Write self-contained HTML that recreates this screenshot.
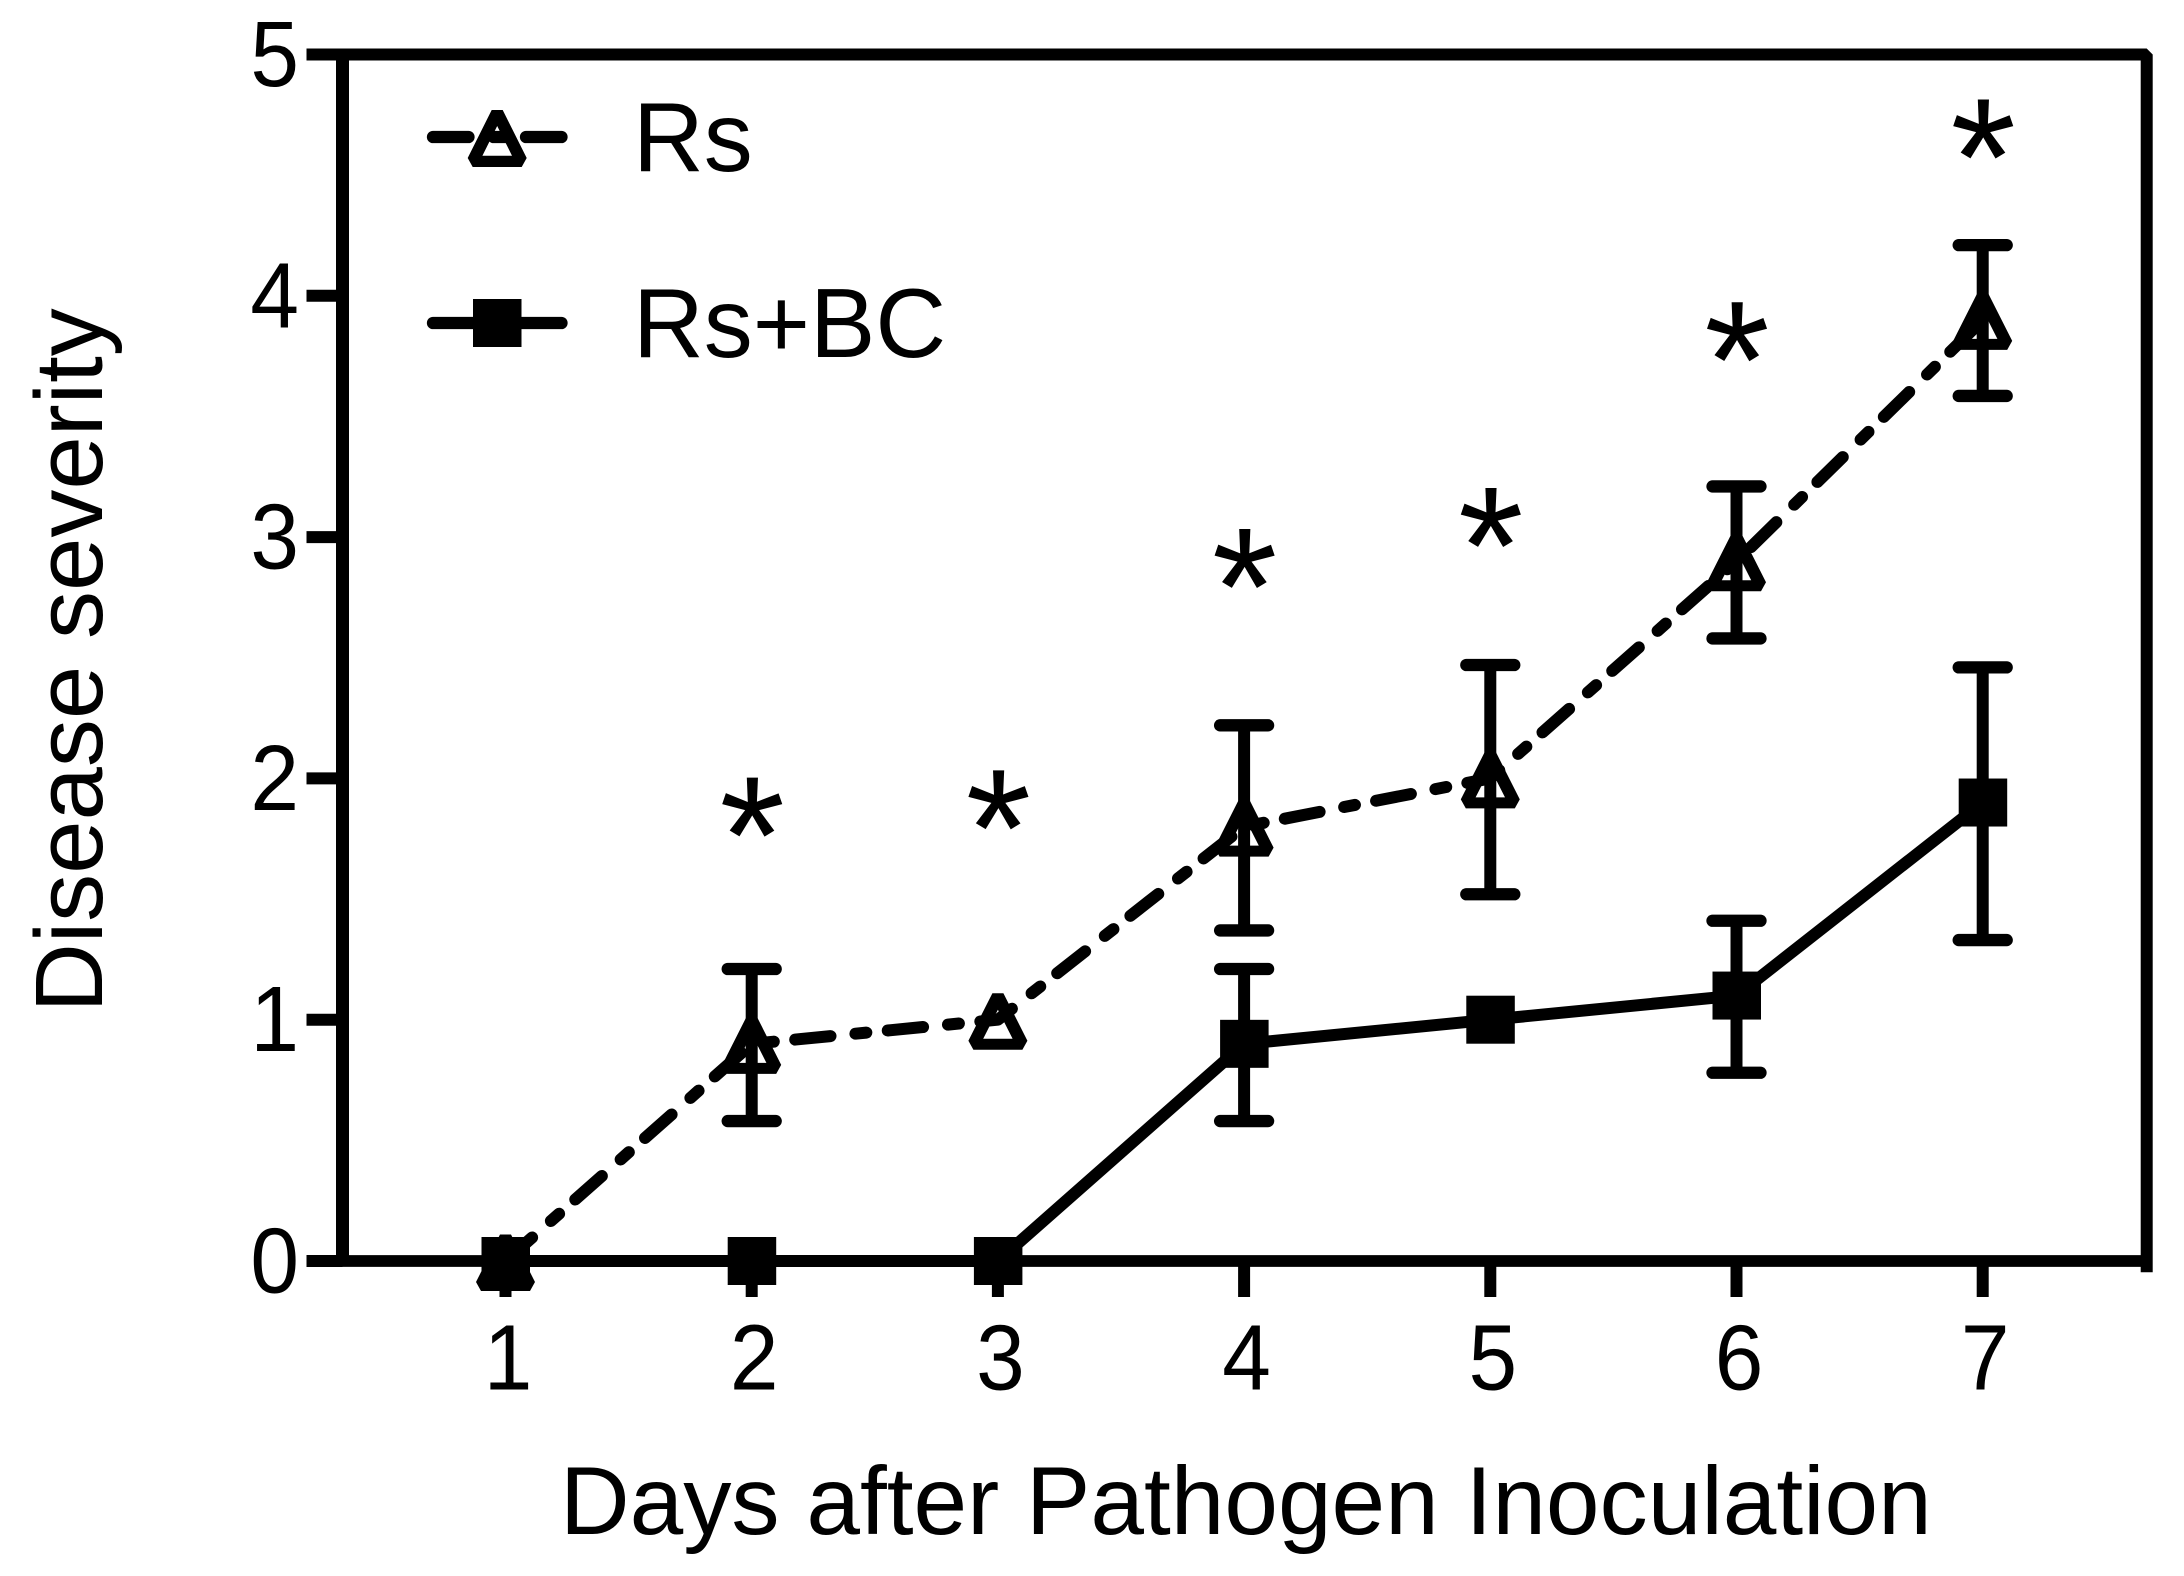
<!DOCTYPE html>
<html>
<head>
<meta charset="utf-8">
<title>Disease severity chart</title>
<style>
  html, body { margin: 0; padding: 0; background: #fff; }
  svg { display: block; }
  text { font-family: "Liberation Sans", Arial, sans-serif; fill: #000; }
</style>
</head>
<body>
<svg id="chart" xmlns="http://www.w3.org/2000/svg" width="2184" height="1576" viewBox="0 0 2184 1576">
  <rect x="0" y="0" width="2184" height="1576" fill="#fff"/>
  <g id="frame"></g>
  <g id="yTicks"></g>
  <g id="xTicks"></g>
  <g id="series"></g>
  <g id="stars"></g>
  <text transform="translate(102,1012.5) rotate(-90)" font-size="96">Disease severity</text>
  <text x="560" y="1534" font-size="96.4">Days after Pathogen Inoculation</text>
  <g>
    <g>
      <line x1="433" y1="137" x2="561.5" y2="137" stroke="#000" stroke-width="12.3" stroke-linecap="round" stroke-dasharray="35.5 25 11 21.5"/>
      <path transform="translate(497.2,137)" fill="#000" fill-rule="evenodd" d="M-5.5,-27 L5.5,-27 L29.5,21 L24.5,30 L-24.5,30 L-29.5,21 Z M0,-11 L-14.8,18.7 L14.8,18.7 Z"/>
      <text x="633" y="171" font-size="98">Rs</text>
    </g>
    <g>
      <line x1="433" y1="323" x2="561.5" y2="323" stroke="#000" stroke-width="12.3" stroke-linecap="round"/>
      <rect x="473" y="299" width="48.5" height="48" fill="#000"/>
      <text x="633" y="357" font-size="98">Rs+BC</text>
    </g>
  </g>
</svg>
<script>
// ---- chart data ----
const days = [1, 2, 3, 4, 5, 6, 7];
const yTickValues = [0, 1, 2, 3, 4, 5];
const rsMean = [0, 0.9, 1, 1.8, 2, 2.9, 3.9];
const rsUpper = [null, 1.21, null, 2.22, 2.47, 3.21, 4.21];
const rsLower = [null, 0.58, null, 1.37, 1.52, 2.58, 3.585];
const bcMean = [0, 0, 0, 0.9, 1, 1.1, 1.9];
const bcUpper = [null, null, null, 1.21, null, 1.41, 2.46];
const bcLower = [null, null, null, 0.58, null, 0.78, 1.33];
const starDays = [2, 3, 4, 5, 6, 7];
const starLevels = [1.86, 1.89, 2.89, 3.06, 3.83, 4.67];

// ---- axis functions ----
function xScale(d) { return 505.5 + (d - 1) * 246.2; }
function yScale(v) { return 1261 - v * 241.3; }

const NS = 'http://www.w3.org/2000/svg';
function make(parent, tag, attrs) {
  const el = document.createElementNS(NS, tag);
  for (const k in attrs) el.setAttribute(k, attrs[k]);
  parent.appendChild(el);
  return el;
}
const frame = document.getElementById('frame');
const yG = document.getElementById('yTicks');
const xG = document.getElementById('xTicks');
const seriesG = document.getElementById('series');
const starsG = document.getElementById('stars');

// frame
const topRight = make(frame, 'polyline', { points: '306.5,' + yScale(5) + ' 2146.7,' + yScale(5) + ' 2146.7,1272.3', fill: 'none', stroke: '#000', 'stroke-width': 12, 'stroke-linejoin': 'bevel' });


const leftAxis = make(frame, 'line', { x1: 342.5, y1: yScale(5), x2: 342.5, y2: yScale(0), stroke: '#000', 'stroke-width': 13 });


const bottomAxis = make(frame, 'line', { x1: 306.5, y1: yScale(0), x2: 2146.7, y2: yScale(0), stroke: '#000', 'stroke-width': 11.7 });



// y ticks
yTickValues.forEach(function (v) {
  const t = make(yG, 'line', { x1: 306.5, y1: yScale(v), x2: 342.5, y2: yScale(v), stroke: '#000', 'stroke-width': 12 });
  
  
  const l = make(yG, 'text', { transform: 'translate(299,' + (yScale(v) + 31.5) + ') scale(0.94,1)', 'font-size': 93, 'text-anchor': 'end' });
  
  
  l.textContent = String(v);
});

// x ticks
days.forEach(function (d) {
  const t = make(xG, 'line', { x1: xScale(d), y1: yScale(0), x2: xScale(d), y2: 1297, stroke: '#000', 'stroke-width': 12 });
  
  
  const l = make(xG, 'text', { transform: 'translate(' + (xScale(d) + 2.5) + ',1389.5) scale(0.94,1)', 'font-size': 93, 'text-anchor': 'middle' });
  
  
  l.textContent = String(d);
});

function polyPoints(values) {
  return values.map(function (v, i) { return xScale(days[i]) + ',' + yScale(v); }).join(' ');
}

function drawErrorBars(parent, upper, lower, name) {
  days.forEach(function (d, i) {
    if (upper[i] === null || lower[i] === null) return;
    const x = xScale(d);
    const stem = make(parent, 'line', { x1: x, y1: yScale(upper[i]), x2: x, y2: yScale(lower[i]), stroke: '#000', 'stroke-width': 12 });
    
    
    const capTop = make(parent, 'line', { x1: x - 24, y1: yScale(upper[i]), x2: x + 24, y2: yScale(upper[i]), stroke: '#000', 'stroke-width': 12.3, 'stroke-linecap': 'round' });
    
    
    const capBottom = make(parent, 'line', { x1: x - 24, y1: yScale(lower[i]), x2: x + 24, y2: yScale(lower[i]), stroke: '#000', 'stroke-width': 12.3, 'stroke-linecap': 'round' });
    
    
  });
}

// Rs series (dash-dot, open triangles)
drawErrorBars(seriesG, rsUpper, rsLower, 'rs');
const rsLine = make(seriesG, 'polyline', { points: polyPoints(rsMean), fill: 'none', stroke: '#000', 'stroke-width': 12, 'stroke-linecap': 'round', 'stroke-linejoin': 'round', 'stroke-dasharray': '35.5 25 11 21.5' });


days.forEach(function (d, i) {
  const tri = make(seriesG, 'path', {
    transform: 'translate(' + xScale(d) + ',' + yScale(rsMean[i]) + ')',
    fill: '#000', 'fill-rule': 'evenodd',
    d: 'M-5.5,-26.5 L5.5,-26.5 L29.5,21 L24.5,30 L-24.5,30 L-29.5,21 Z M0,-10 L-14.7,19 L14.7,19 Z'
  });
  
  
});

// Rs+BC series (solid, filled squares)
drawErrorBars(seriesG, bcUpper, bcLower, 'rs-bc');
const bcLine = make(seriesG, 'polyline', { points: polyPoints(bcMean), fill: 'none', stroke: '#000', 'stroke-width': 12, 'stroke-linejoin': 'round' });


days.forEach(function (d, i) {
  const sq = make(seriesG, 'rect', { x: xScale(d) - 24, y: yScale(bcMean[i]) - 24, width: 48.5, height: 48, fill: '#000' });
  
  
});

// significance asterisks
starDays.forEach(function (d, i) {
  const s = make(starsG, 'text', { x: xScale(d) + 0.5, y: yScale(starLevels[i]) + 81, 'font-size': 168, 'text-anchor': 'middle' });
  
  
  s.textContent = '*';
});
</script>
</body>
</html>
